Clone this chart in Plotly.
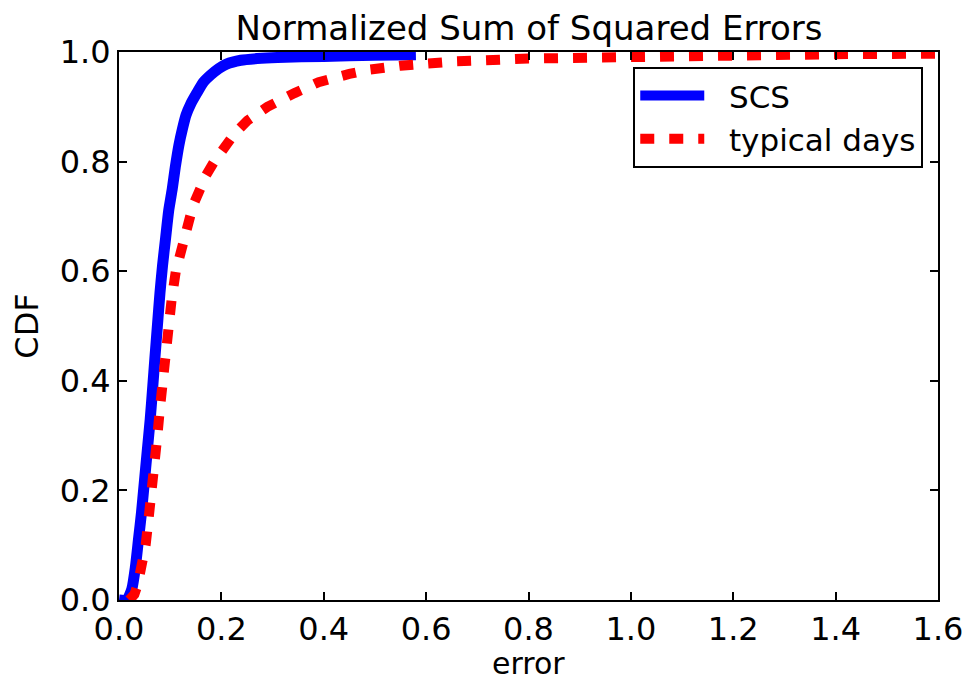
import plotly.graph_objects as go

# SCS CDF
scs_x = [0.0, 0.015, 0.025, 0.032, 0.038, 0.044, 0.049, 0.055, 0.061, 0.066, 0.070, 0.075,
         0.080, 0.085, 0.091, 0.097, 0.104, 0.110, 0.117, 0.124, 0.131, 0.140, 0.152, 0.165,
         0.179, 0.195, 0.210, 0.238, 0.27, 0.31, 0.40, 0.50, 0.58]
scs_y = [0.0, 0.0, 0.02, 0.06, 0.11, 0.16, 0.21, 0.27, 0.33, 0.39, 0.44, 0.50,
         0.56, 0.61, 0.66, 0.71, 0.75, 0.79, 0.83, 0.86, 0.885, 0.905, 0.925, 0.945,
         0.958, 0.970, 0.978, 0.985, 0.988, 0.990, 0.992, 0.994, 0.995]

# typical days CDF
td_x = [0.02, 0.03, 0.037, 0.042, 0.047, 0.052, 0.058, 0.065, 0.070, 0.075, 0.080, 0.085,
        0.090, 0.095, 0.103, 0.111, 0.117, 0.124, 0.131, 0.139, 0.147, 0.156, 0.170, 0.186,
        0.205, 0.225, 0.251, 0.29, 0.343, 0.39, 0.45, 0.49, 0.55, 0.66, 0.8, 1.0, 1.2, 1.4, 1.6]
td_y = [0.0, 0.01, 0.03, 0.05, 0.075, 0.10, 0.15, 0.20, 0.25, 0.30, 0.35, 0.40,
        0.45, 0.50, 0.55, 0.60, 0.625, 0.65, 0.675, 0.70, 0.725, 0.75, 0.775, 0.80,
        0.825, 0.85, 0.875, 0.90, 0.925, 0.945, 0.96, 0.968, 0.975, 0.983, 0.988, 0.992,
        0.994, 0.996, 0.997]

x_ticks = [0.0, 0.2, 0.4, 0.6, 0.8, 1.0, 1.2, 1.4, 1.6]
y_ticks = [0.0, 0.2, 0.4, 0.6, 0.8, 1.0]

FONT = "DejaVu Sans"
TICK_SIZE = 32

fig = go.Figure()
fig.add_trace(go.Scatter(x=scs_x, y=scs_y, mode="lines", name="\u00a0\u00a0SCS",
                         line=dict(color="#0000ff", width=11, shape="spline", smoothing=0.6)))
fig.add_trace(go.Scatter(x=td_x, y=td_y, mode="lines", name="\u00a0\u00a0typical days",
                         line=dict(color="#ff0000", width=10, dash="14px,15px")))

axis_common = dict(showline=True, linecolor="black", linewidth=2, mirror="ticks",
                   ticks="inside", ticklen=8, tickwidth=1.5, tickcolor="black",
                   showgrid=False, zeroline=False, automargin=False,
                   tickfont=dict(family=FONT, size=TICK_SIZE, color="black"))

fig.update_xaxes(range=[0, 1.6], tickvals=x_ticks,
                 ticktext=[f"{v:.1f}" for v in x_ticks],
                 **axis_common)
fig.update_yaxes(range=[0, 1.0], tickvals=y_ticks,
                 ticktext=[f"{v:.1f}" for v in y_ticks],
                 title=dict(text="CDF", font=dict(family=FONT, size=TICK_SIZE, color="black"), standoff=12),
                 **axis_common)

fig.add_annotation(text="error", xref="paper", yref="paper", x=0.5, y=-0.116,
                   xanchor="center", yanchor="middle", showarrow=False, borderpad=0,
                   font=dict(family=FONT, size=30, color="black"))

fig.update_layout(
    width=969, height=683,
    margin=dict(l=119, r=31, t=52, b=83),
    plot_bgcolor="white", paper_bgcolor="white",
    title=dict(text="Normalized Sum of Squared Errors", x=0.546, xanchor="center",
               y=0.959, yanchor="middle",
               font=dict(family=FONT, size=34, color="black")),
    legend=dict(x=0.982, xanchor="right", y=0.973, yanchor="top",
                bordercolor="black", borderwidth=2, bgcolor="white",
                font=dict(family=FONT, size=31, color="black"),
                itemwidth=64, tracegroupgap=0),
    showlegend=True,
)

fig.write_html("out.html")
